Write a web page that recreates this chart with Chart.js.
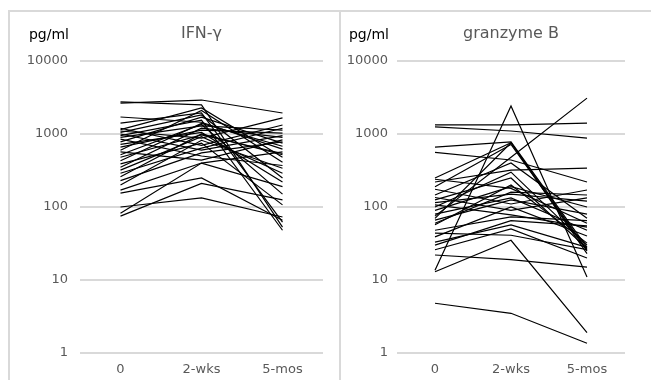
<!DOCTYPE html>
<html>
<head>
<meta charset="utf-8">
<script src="https://cdn.jsdelivr.net/npm/chart.js@4"></script>
<style>
  body { margin: 0; background: #fff; }
  #wrap { position: relative; width: 651px; height: 380px; overflow: hidden; }
  .frame { position: absolute; left: 8px; top: 10px; width: 660px; height: 380px;
           border-top: 2px solid #d9d9d9; border-left: 2px solid #d9d9d9; }
  .divider { position: absolute; left: 339px; top: 10px; width: 2px; height: 370px; background: #d9d9d9; }
  canvas { position: absolute; top: 0; }
</style>
</head>
<body>
<div id="wrap">
  <div class="frame"></div>
  <div class="divider"></div>
  <canvas id="ifn" width="340" height="380" style="left:0"></canvas>
  <canvas id="gzb" width="311" height="380" style="left:340px"></canvas>
</div>
<script>
// time points
const categories = ['0', '2-wks', '5-mos'];
const yTicks = [1, 10, 100, 1000, 10000];

// IFN-gamma, one row per subject: [0, 2-wks, 5-mos] in pg/ml
const ifnSeries = [
  [2650, 2920, 1940], [2750, 2500, 53], [1710, 1450, 620], [1410, 1940, 62],
  [1200, 700, 1330], [1150, 2270, 480], [1100, 880, 1660], [1050, 1820, 250],
  [1000, 600, 950], [950, 1550, 48], [900, 1290, 1130], [850, 500, 370],
  [780, 1700, 750], [720, 1050, 220], [660, 1130, 1030], [600, 2100, 410],
  [570, 440, 830], [520, 1350, 150], [480, 970, 540], [430, 1400, 680],
  [390, 750, 107], [350, 1200, 900], [320, 920, 290], [290, 640, 1200],
  [260, 1000, 520], [230, 550, 780], [200, 820, 340], [170, 400, 570],
  [155, 250, 66], [100, 133, 73], [82, 400, 190], [75, 210, 125]
];

// granzyme B, one row per subject: [0, 2-wks, 5-mos] in pg/ml
const gzbSeries = [
  [1330, 1330, 1410], [1250, 1100, 880], [660, 780, 28], [560, 440, 220],
  [250, 760, 26], [240, 180, 60], [220, 320, 340], [190, 720, 25],
  [175, 110, 171], [146, 400, 70], [135, 90, 133], [125, 250, 27],
  [115, 150, 120], [107, 78, 53], [100, 300, 30], [90, 190, 100],
  [80, 133, 48], [75, 480, 3100], [70, 760, 23], [66, 125, 80],
  [60, 160, 146], [57, 200, 32], [48, 73, 65], [44, 41, 26],
  [39, 100, 40], [33, 57, 28], [30, 65, 55], [26, 50, 20],
  [22, 19, 15], [13.6, 2420, 11], [13, 35, 1.9], [4.8, 3.5, 1.36]
];

const FONT = "'DejaVu Sans', 'Liberation Sans', sans-serif";
const GREY = '#595959';

function makeChart(id, series, title, axisWidth, tickPad, padRight) {
  // draws the "pg/ml" unit and the panel title
  const labels = {
    id: 'labels',
    afterDraw(chart) {
      const ctx = chart.ctx;
      const area = chart.chartArea;
      ctx.save();
      ctx.textBaseline = 'middle';
      ctx.textAlign = 'right';
      ctx.fillStyle = '#000';
      ctx.font = '14px ' + FONT;
      ctx.fillText('pg/ml', axisWidth - tickPad + 1, 35);
      ctx.textAlign = 'center';
      ctx.fillStyle = GREY;
      ctx.font = '16px ' + FONT;
      ctx.fillText(title, (area.left + area.right) / 2, 34);
      ctx.restore();
    }
  };

  return new Chart(document.getElementById(id), {
    type: 'line',
    data: {
      labels: categories,
      datasets: series.map(row => ({
        data: row,
        borderColor: '#000',
        borderWidth: 1.2,
        pointRadius: 0,
        fill: false,
        tension: 0
      }))
    },
    options: {
      responsive: false,
      animation: false,
      devicePixelRatio: 1,
      layout: { padding: { left: 0, right: padRight, top: 61, bottom: 0 } },
      plugins: { legend: { display: false }, tooltip: { enabled: false } },
      scales: {
        x: {
          type: 'category',
          offset: true,
          grid: { display: false, drawTicks: false },
          border: { display: false },
          ticks: { color: GREY, font: { family: FONT, size: 13 }, padding: 9, maxRotation: 0 },
          afterFit(scale) { scale.height = 27; }
        },
        y: {
          type: 'logarithmic',
          min: 1,
          max: 10000,
          grid: { color: '#d9d9d9', lineWidth: 2, drawTicks: false },
          border: { display: false },
          ticks: {
            color: GREY,
            font: { family: FONT, size: 13 },
            padding: tickPad,
            callback: v => String(v)
          },
          afterBuildTicks(scale) { scale.ticks = yTicks.map(v => ({ value: v })); },
          afterFit(scale) { scale.width = axisWidth; }
        }
      }
    },
    plugins: [labels]
  });
}

makeChart('ifn', ifnSeries, 'IFN-γ', 80, 12, 17);
makeChart('gzb', gzbSeries, 'granzyme B', 57, 9, 26);
</script>
</body>
</html>
